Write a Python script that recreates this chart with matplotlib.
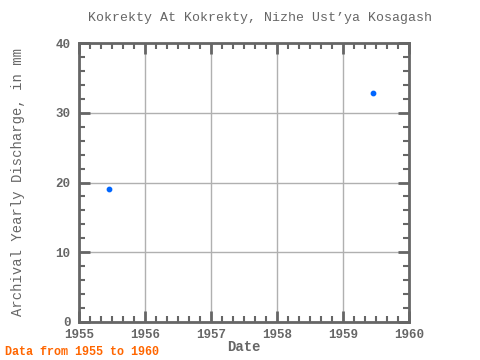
import matplotlib.pyplot as plt
from matplotlib.ticker import MultipleLocator

years = [1955.46, 1959.46]
discharge = [19.0, 32.8]

plt.rcParams['font.family'] = ['Liberation Mono', 'DejaVu Sans Mono']
grey = '#666666'

fig = plt.figure(figsize=(4.8, 3.6), dpi=100)
ax = fig.add_axes([79 / 480, 1 - 322 / 360, 330 / 480, 279 / 360])

ax.scatter(years, discharge, s=10, color='#0066ff', marker='o', zorder=3)

ax.set_xlim(1955, 1960)
ax.set_ylim(0, 40)
ax.xaxis.set_major_locator(MultipleLocator(1))
ax.xaxis.set_minor_locator(MultipleLocator(1 / 6))
ax.yaxis.set_major_locator(MultipleLocator(10))
ax.yaxis.set_minor_locator(MultipleLocator(2))
ax.xaxis.set_major_formatter(lambda v, p: f'{int(round(v))}')

ax.grid(True, which='major', color='#b0b0b0', linewidth=1)
ax.set_axisbelow(True)
for s in ax.spines.values():
    s.set_color(grey)
    s.set_linewidth(2)
ax.tick_params(which='both', direction='in', top=True, right=True, color=grey,
               labelcolor=grey, labelsize=9)
ax.tick_params(which='major', length=8, width=2)
ax.tick_params(which='minor', length=4, width=1.5)
ax.tick_params(axis='x', pad=5)
ax.tick_params(axis='y', pad=6)
for lab in ax.get_xticklabels() + ax.get_yticklabels():
    lab.set_fontweight('bold')

# title sits a bit right of the axes centre in the original
fig.text(260 / 480, 1 - 18 / 360, "Kokrekty At Kokrekty, Nizhe Ust\u2019ya Kosagash",
         color=grey, fontsize=9.5, ha='center', va='center')
ax.set_xlabel('Date', color=grey, fontsize=10, fontweight='bold')
ax.set_ylabel('Archival Yearly Discharge, in mm', color=grey, fontsize=10)
ax.xaxis.set_label_coords(0.5, -0.065)
ax.yaxis.set_label_coords(-0.165, 0.5)

fig.text(5 / 480, 1 - 352 / 360, 'Data from 1955 to 1960', color='#ff6600',
         fontsize=8.5, fontweight='bold', va='center', ha='left')

fig.savefig('out.png', dpi=100)
